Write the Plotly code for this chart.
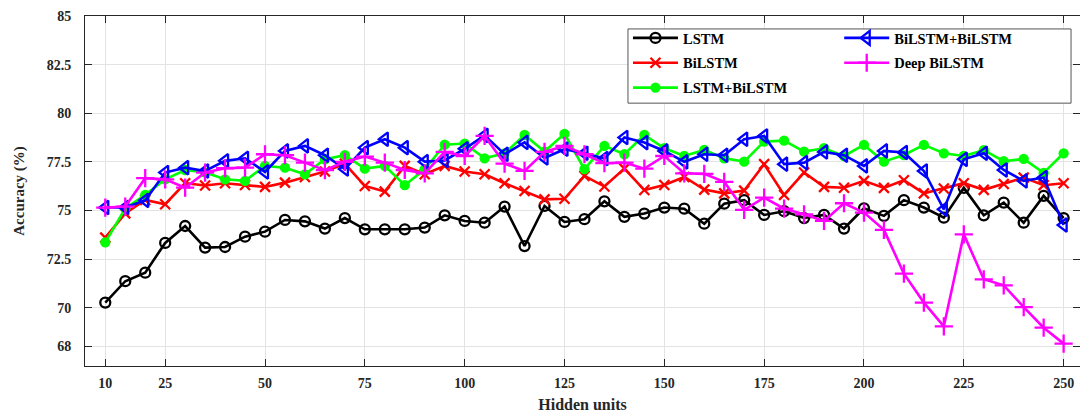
import plotly.graph_objects as go

hidden_units = list(range(10, 251, 5))

lstm = [70.26, 71.36, 71.8, 73.33, 74.2, 73.09, 73.12, 73.65, 73.91, 74.51,
        74.44, 74.07, 74.61, 74.03, 74.03, 74.03, 74.12, 74.75, 74.46, 74.37,
        75.2, 73.17, 75.23, 74.41, 74.55, 75.47, 74.67, 74.84, 75.15, 75.09,
        74.32, 75.35, 75.53, 74.77, 74.96, 74.61, 74.77, 74.07, 75.11, 74.72,
        75.53, 75.15, 74.63, 76.16, 74.75, 75.4, 74.37, 75.75, 74.61]

bilstm = [73.6, 74.85, 75.54, 75.32, 76.4, 76.28, 76.4, 76.31, 76.21, 76.43,
          76.72, 77.0, 77.4, 76.26, 75.97, 77.29, 76.86, 77.29, 77.0, 76.86,
          76.4, 76.0, 75.57, 75.6, 76.78, 76.23, 77.15, 76.05, 76.31, 76.72,
          76.07, 75.88, 76.02, 77.38, 75.8, 76.95, 76.21, 76.17, 76.52, 76.16,
          76.55, 75.88, 76.13, 76.4, 76.06, 76.36, 76.69, 76.3, 76.4]

lstm_bilstm = [73.36, 75.1, 75.8, 76.6, 77.08, 76.95, 76.6, 76.52, 77.29, 77.2,
               76.86, 77.63, 77.84, 77.15, 77.29, 76.3, 77.12, 78.38, 78.44, 77.68,
               77.94, 78.88, 78.03, 78.94, 77.12, 78.32, 77.89, 78.88, 78.2, 77.8,
               78.11, 77.68, 77.51, 78.54, 78.59, 78.03, 78.2, 77.8, 78.37, 77.51,
               77.85, 78.37, 77.94, 77.8, 78.1, 77.53, 77.65, 76.93, 77.94]

bilstm_bilstm = [75.15, 75.15, 75.52, 76.95, 77.2, 77.03, 77.55, 77.68, 76.98, 78.06,
                 78.32, 77.84, 77.13, 78.23, 78.66, 78.23, 77.51, 77.57, 78.17, 78.86,
                 77.89, 78.5, 77.7, 78.15, 77.94, 77.67, 78.75, 78.49, 78.06, 77.5,
                 77.89, 77.84, 78.66, 78.83, 77.38, 77.46, 78.01, 77.84, 77.29, 78.06,
                 77.98, 77.03, 75.06, 77.63, 77.94, 77.08, 76.52, 76.69, 74.25]

deep_bilstm = [75.15, 75.2, 76.66, 76.6, 76.17, 76.95, 77.17, 77.2, 77.89, 77.84,
               77.46, 77.07, 77.5, 77.77, 77.46, 77.08, 76.91, 78.01, 77.8, 78.83,
               77.41, 77.03, 78.01, 78.32, 77.89, 77.43, 77.46, 77.15, 77.8, 76.91,
               76.88, 76.47, 75.03, 75.66, 75.09, 74.8, 74.46, 75.37, 74.89, 74.0,
               71.75, 70.26, 69.04, 73.77, 71.46, 71.15, 70.03, 68.97, 68.15]

x_ticks = [10, 25, 50, 75, 100, 125, 150, 175, 200, 225, 250]
y_ticks = [68, 70, 72.5, 75, 77.5, 80, 82.5, 85]
y_tick_text = ["68", "70", "72.5", "75", "77.5", "80", "82.5", "85"]

# name, values, colour, marker symbol, marker size, legend id
series = [
    ("LSTM", lstm, "#000000", "circle-open", 10, "legend"),
    ("BiLSTM", bilstm, "#ff0000", "x-thin-open", 10, "legend"),
    ("LSTM+BiLSTM", lstm_bilstm, "#00ff00", "circle", 8, "legend"),
    ("BiLSTM+BiLSTM", bilstm_bilstm, "#0000ff", "triangle-left-open", 12, "legend2"),
    ("Deep BiLSTM", deep_bilstm, "#ff00ff", "cross-thin-open", 13, "legend2"),
]

fig = go.Figure()
for name, vals, color, sym, size, leg in series:
    fig.add_trace(go.Scatter(
        x=hidden_units, y=vals, name=name, mode="lines+markers",
        line=dict(color=color, width=2.6),
        marker=dict(symbol=sym, size=size, color=color,
                    line=dict(color=color, width=2.3)),
        legend=leg, legendgroup=name,
    ))

font_family = "Liberation Serif, Times New Roman, serif"
legend_font = dict(family=font_family, size=14.5, color="#000000", weight="bold")

box_x0, box_x1, box_y0, box_y1 = 0.5457, 0.991, 0.751, 0.963
legend_top = 0.983

fig.update_layout(
    width=1080, height=416,
    margin=dict(l=85, r=0, t=16, b=50),
    paper_bgcolor="white", plot_bgcolor="white",
    font=dict(family=font_family, color="#262626"),
    legend=dict(
        orientation="v", x=box_x0, y=legend_top, xanchor="left", yanchor="top",
        borderwidth=0, bgcolor="rgba(0,0,0,0)", itemwidth=45,
        font=legend_font, traceorder="grouped", tracegroupgap=3,
    ),
    legend2=dict(
        orientation="v", x=0.758, y=legend_top, xanchor="left", yanchor="top",
        borderwidth=0, bgcolor="rgba(0,0,0,0)", itemwidth=45,
        font=legend_font, traceorder="grouped", tracegroupgap=3,
    ),
    shapes=[dict(type="rect", xref="paper", yref="paper",
                 x0=box_x0, x1=box_x1, y0=box_y0, y1=box_y1,
                 line=dict(color="#555555", width=1), fillcolor="white",
                 layer="above")],
)
fig.update_xaxes(
    range=[4.92, 254.1], tickvals=x_ticks, ticktext=[str(v) for v in x_ticks],
    ticks="inside", ticklen=7, tickcolor="#262626",
    showline=True, linecolor="#262626", linewidth=1, mirror="ticks",
    showgrid=True, gridcolor="#e3e3e3", gridwidth=1, zeroline=False,
    tickfont=dict(family=font_family, size=14, weight="bold", color="#262626"),
    ticklabelstandoff=4,
    title=dict(text="Hidden units", standoff=9,
               font=dict(family=font_family, size=16, weight="bold", color="#262626")),
)
fig.update_yaxes(
    range=[67, 85], tickvals=y_ticks, ticktext=y_tick_text,
    ticks="inside", ticklen=7, tickcolor="#262626",
    showline=True, linecolor="#262626", linewidth=1, mirror="ticks",
    showgrid=True, gridcolor="#e3e3e3", gridwidth=1, zeroline=False,
    tickfont=dict(family=font_family, size=14, weight="bold", color="#262626"),
    ticklabelstandoff=10,
    title=dict(text="Accuracy (%)", standoff=18,
               font=dict(family=font_family, size=15, weight="bold", color="#262626")),
)

fig.write_html("out.html")
